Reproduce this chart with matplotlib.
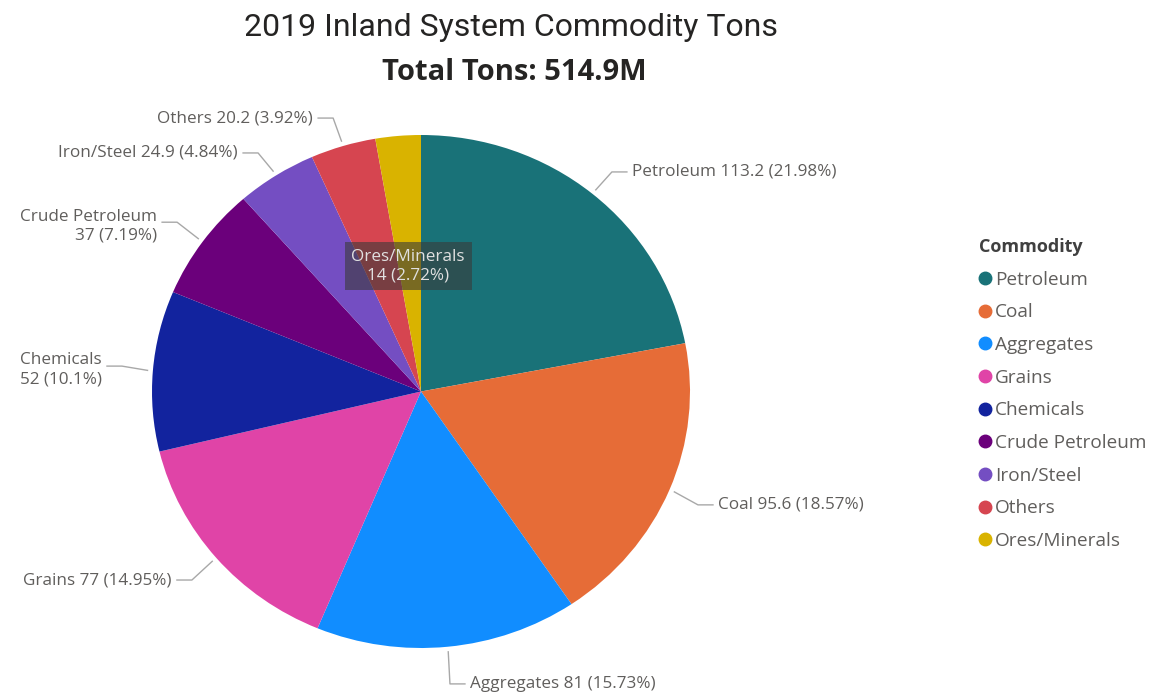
import numpy as np
import matplotlib.pyplot as plt
from matplotlib.lines import Line2D

# Datos
categories = ['Petroleum', 'Coal', 'Aggregates', 'Grains', 'Chemicals',
              'Crude Petroleum', 'Iron/Steel', 'Others', 'Ores/Minerals']
tons = [113.2, 95.6, 81, 77, 52, 37, 24.9, 20.2, 14]
pct_text = ['21.98%', '18.57%', '15.73%', '14.95%', '10.1%',
            '7.19%', '4.84%', '3.92%', '2.72%']
value_text = ['113.2', '95.6', '81', '77', '52', '37', '24.9', '20.2', '14']
colors = ['#197278', '#E66C37', '#118DFF', '#E044A7', '#12239E',
          '#6B007B', '#744EC2', '#D64550', '#D9B300']

# label layout (data coords of the pie axes), alignment, two lines?
label_pos = [(0.784, 0.856, 'left', False),
             (1.104, -0.442, 'left', False),
             (0.182, -1.140, 'left', False),
             (-0.926, -0.735, 'right', False),
             (-1.186, 0.084, 'right', True),
             (-0.981, 0.645, 'right', True),
             (-0.680, 0.930, 'right', False),
             (-0.401, 1.066, 'right', False),
             (-0.048, 0.489, 'inside', True)]

W, H = 1151, 695
fig = plt.figure(figsize=(W / 100, H / 100), dpi=100)
fig.patch.set_facecolor('white')

ax = fig.add_axes([152 / W, 47 / H, 538 / W, 513 / H])
wedges, _ = ax.pie(tons, colors=colors, startangle=90, counterclock=False,
                   radius=1, wedgeprops=dict(linewidth=0))
ax.set_aspect('auto')
ax.set_xlim(-1, 1)
ax.set_ylim(-1, 1)
ax.axis('off')

lab_font = 'Open Sans'
lab_size = 12.3
lab_color = '#605E5C'
line_color = '#A8A8A8'
px = 2 / 538  # one pixel in x data units

for w, cat, v, p, (tx, ty, ha, two) in zip(wedges, categories, value_text,
                                            pct_text, label_pos):
    sep = '\n' if two else ' '
    txt = f'{cat}{sep}{v} ({p})'
    if ha == 'inside':
        ax.text(tx, ty, txt, ha='center', va='center', fontsize=lab_size,
                family=lab_font, color='#E0E0E0', linespacing=1.2,
                bbox=dict(boxstyle='square,pad=0.4', fc='#3A3A3A', ec='none',
                          alpha=0.6))
        continue
    mid = np.deg2rad((w.theta1 + w.theta2) / 2)
    ex, ey = 1.02 * np.cos(mid), 1.02 * np.sin(mid)
    sgn = -1 if ha == 'left' else 1
    xs = [ex, tx + sgn * 20 * px, tx + sgn * 5 * px]
    ly = ty + (0.015 if two else 0)
    ys = [ey, ly, ly]
    ax.plot(xs, ys, color=line_color, lw=1, clip_on=False)
    ax.text(tx, ty, txt, ha=ha, va='center', fontsize=lab_size,
            family=lab_font, color=lab_color, multialignment='right',
            linespacing=1.25)

# Títulos
fig.text(511 / W, 1 - 27 / H, '2019 Inland System Commodity Tons',
         ha='center', va='center', fontsize=23, family='Roboto',
         color='#252423')
fig.text(514 / W, 1 - 73 / H, 'Total Tons: 514.9M', ha='center', va='center',
         fontsize=21, family='Open Sans', fontweight='bold', color='#252423')

# Leyenda
handles = [Line2D([], [], marker='o', ls='none', color=c, markersize=9)
           for c in colors]
leg = fig.legend(handles, categories, title='Commodity', loc='upper left',
                 bbox_to_anchor=(979 / W, 1 - 238 / H), frameon=False,
                 alignment='left', labelspacing=0.77, handlelength=0.6,
                 handletextpad=0.25, borderpad=0, borderaxespad=0,
                 prop=dict(family=lab_font, size=13.7),
                 title_fontproperties=dict(family=lab_font, size=13,
                                           weight='bold'))
for t in leg.get_texts():
    t.set_color(lab_color)
leg.get_title().set_color('#404040')

fig.savefig('out.png', dpi=100)
